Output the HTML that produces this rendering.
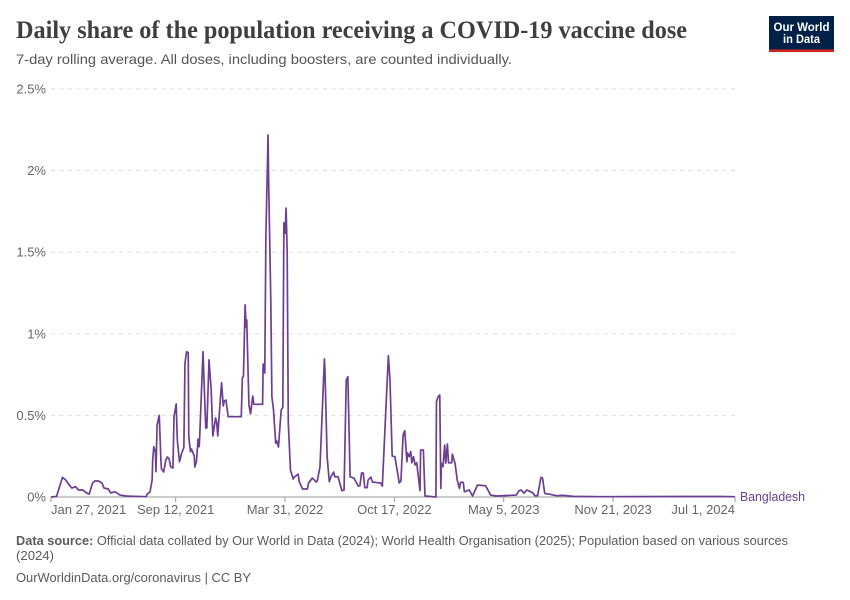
<!DOCTYPE html>
<html lang="en">
<head>
<meta charset="utf-8">
<title>Daily share of the population receiving a COVID-19 vaccine dose</title>
<style>
  html, body { margin: 0; padding: 0; background: #fff; }
  svg { display: block; font-family: "Liberation Sans", sans-serif; }
</style>
</head>
<body>
<svg id="chart" width="850" height="600" viewBox="0 0 850 600" xmlns="http://www.w3.org/2000/svg">
  <text x="16" y="38" font-family="'Liberation Serif', serif" font-weight="700" font-size="25" fill="#3f3f3f" textLength="671" lengthAdjust="spacingAndGlyphs">Daily share of the population receiving a COVID-19 vaccine dose</text>
  <text x="16" y="64" font-size="14" fill="#555" textLength="496" lengthAdjust="spacingAndGlyphs">7-day rolling average. All doses, including boosters, are counted individually.</text>

  <g>
    <rect x="769" y="16" width="65" height="36" fill="#002147"/>
    <rect x="769" y="49.4" width="65" height="2.6" fill="#ce261e"/>
    <text x="801.5" y="31" text-anchor="middle" font-size="12" font-weight="700" fill="#fff" textLength="56" lengthAdjust="spacingAndGlyphs">Our World</text>
    <text x="801.5" y="43" text-anchor="middle" font-size="12" font-weight="700" fill="#fff" textLength="37" lengthAdjust="spacingAndGlyphs">in Data</text>
  </g>

  <g id="grid"></g>
  <g id="axis"></g>
  <path id="series" fill="none" stroke="#6d3e91" stroke-width="1.7" stroke-linejoin="round"></path>
  <text id="series-label" x="740" y="501" font-size="12.5" fill="#6d3e91" textLength="65" lengthAdjust="spacingAndGlyphs">Bangladesh</text>

  <text x="16" y="545" font-size="13" fill="#5b5b5b" textLength="772" lengthAdjust="spacingAndGlyphs"><tspan font-weight="700">Data source:</tspan> Official data collated by Our World in Data (2024); World Health Organisation (2025); Population based on various sources</text>
  <text x="16" y="560" font-size="13" fill="#5b5b5b" textLength="38" lengthAdjust="spacingAndGlyphs">(2024)</text>
  <text x="16" y="582" font-size="13" fill="#5b5b5b" textLength="235" lengthAdjust="spacingAndGlyphs">OurWorldinData.org/coronavirus | CC BY</text>
</svg>
<script>
// Days since Jan 27, 2021
const days = [0,10,21,27,32,38,45,50,58,65,70,76,80,87,93,97,105,109,117,126,138,174,176,181,185,186,188,191,192,194,198,201,202,206,210,213,216,219,223,225,229,231,235,239,243,245,248,251,252,255,257,262,263,266,269,271,272,278,283,285,289,293,296,301,303,305,310,312,315,317,320,324,348,350,352,355,357,358,362,365,369,371,387,388,391,393,397,398,402,404,407,411,413,416,421,424,425,426,428,430,432,434,438,443,445,452,454,460,469,471,478,485,487,492,500,501,505,509,512,517,519,525,532,536,540,543,547,554,562,565,568,571,574,578,580,585,588,600,603,606,617,620,624,629,637,640,644,647,651,652,655,658,660,663,666,669,671,675,676,681,684,704,705,708,711,713,714,717,720,722,725,727,733,734,739,743,747,749,754,756,765,771,780,795,804,815,851,856,860,865,870,876,882,885,890,896,899,903,907,911,919,925,937,955,1004,1149,1223,1251];
// Daily doses as a share of population, in percent
const shares = [0,0.003,0.12,0.104,0.08,0.055,0.063,0.043,0.043,0.025,0.018,0.086,0.098,0.098,0.086,0.055,0.049,0.025,0.032,0.012,0.006,0.002,0.018,0.03,0.104,0.227,0.308,0.276,0.155,0.44,0.5,0.227,0.172,0.153,0.227,0.245,0.233,0.184,0.178,0.492,0.57,0.35,0.216,0.27,0.302,0.82,0.89,0.884,0.37,0.278,0.294,0.251,0.184,0.216,0.355,0.308,0.37,0.89,0.423,0.423,0.84,0.655,0.374,0.484,0.46,0.374,0.614,0.7,0.558,0.588,0.594,0.492,0.492,0.73,0.74,1.177,1.04,1.085,0.564,0.51,0.618,0.568,0.568,0.815,0.76,1.6,2.218,1.95,1.2,0.614,0.533,0.33,0.343,0.306,0.533,0.55,1.145,1.68,1.615,1.77,1.49,0.453,0.165,0.11,0.122,0.14,0.094,0.049,0.049,0.086,0.116,0.092,0.098,0.186,0.846,0.78,0.247,0.094,0.124,0.153,0.124,0.124,0.039,0.043,0.717,0.737,0.124,0.116,0.067,0.069,0.147,0.147,0.057,0.057,0.104,0.122,0.092,0.086,0.086,0.067,0.866,0.717,0.251,0.247,0.086,0.098,0.38,0.406,0.216,0.27,0.247,0.278,0.21,0.247,0.196,0.21,0.147,0.039,0.288,0.288,0.006,0,0.584,0.615,0.625,0.053,0.206,0.186,0.318,0.208,0.325,0.21,0.21,0.263,0.206,0.104,0.053,0.09,0.09,0.032,0.043,0.006,0.073,0.069,0.012,0.006,0.012,0.039,0.043,0.023,0.043,0.034,0.023,0.008,0.008,0.12,0.116,0.023,0.018,0.018,0.012,0.008,0.01,0.004,0.002,0.003,0.003,0.002];
const yTickValues = [0,0.5,1,1.5,2,2.5];
const yTickLabels = ["0%","0.5%","1%","1.5%","2%","2.5%"];
const xTickDays = [0,228,428,628,828,1028,1251];
const xTickLabels = ["Jan 27, 2021","Sep 12, 2021","Mar 31, 2022","Oct 17, 2022","May 5, 2023","Nov 21, 2023","Jul 1, 2024"];

const SVG_NS = "http://www.w3.org/2000/svg";
const plot = { left: 51, right: 735, top: 89, bottom: 497 };
const xDomainMax = 1251;
const yDomainMax = 2.5;

function xScale(day) {
  return plot.left + (day / xDomainMax) * (plot.right - plot.left);
}
function yScale(value) {
  return plot.bottom - (value / yDomainMax) * (plot.bottom - plot.top);
}
function make(tag, attrs, parent) {
  const el = document.createElementNS(SVG_NS, tag);
  Object.keys(attrs).forEach(function (k) { el.setAttribute(k, attrs[k]); });
  parent.appendChild(el);
  return el;
}

const gridGroup = document.getElementById("grid");


const axisGroup = document.getElementById("axis");



yTickValues.forEach(function (v, i) {
  const y = yScale(v);
  if (v !== 0) {
    const line = make("line", { x1: plot.left, x2: plot.right, y1: y, y2: y, stroke: "#dddddd", "stroke-dasharray": "4 4.5" }, gridGroup);
    
    
  }
  const label = make("text", { x: 46, y: y + 4.5, "text-anchor": "end", "font-size": 13, fill: "#666" }, axisGroup);
  
  
  label.textContent = yTickLabels[i];
});

const baseline = make("line", { x1: plot.left, x2: plot.right, y1: plot.bottom, y2: plot.bottom, stroke: "#999" }, axisGroup);



xTickDays.forEach(function (d, i) {
  const x = xScale(d);
  const tick = make("line", { x1: x, x2: x, y1: plot.bottom, y2: plot.bottom + 5, stroke: "#999" }, axisGroup);
  
  
  const anchor = i === 0 ? "start" : (i === xTickDays.length - 1 ? "end" : "middle");
  const label = make("text", { x: x, y: 514, "text-anchor": anchor, "font-size": 13, fill: "#666" }, axisGroup);
  
  
  label.textContent = xTickLabels[i];
});

const pathData = days.map(function (d, i) {
  return (i === 0 ? "M" : "L") + xScale(d).toFixed(2) + " " + yScale(shares[i]).toFixed(2);
}).join(" ");
document.getElementById("series").setAttribute("d", pathData);
</script>
</body>
</html>
